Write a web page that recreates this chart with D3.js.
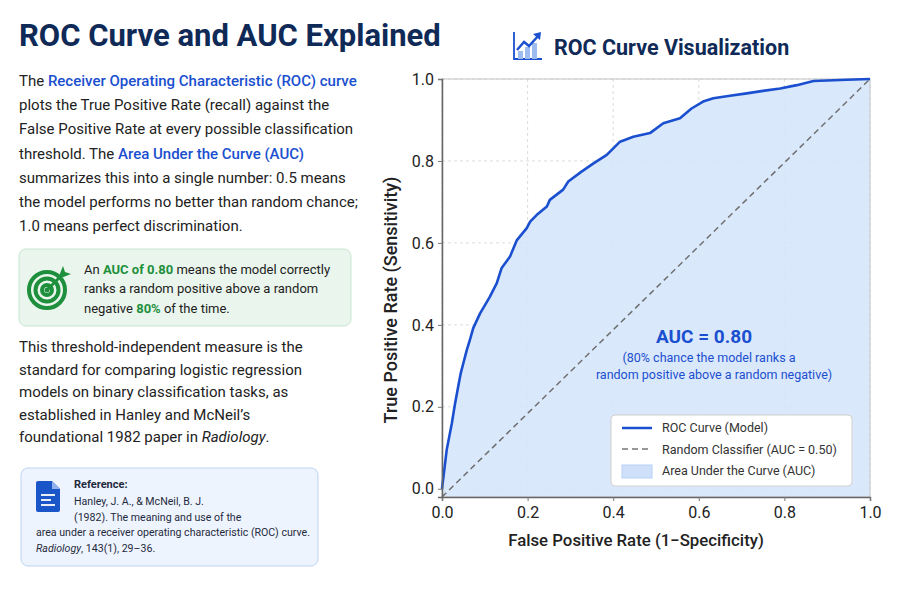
<!DOCTYPE html>
<html>
<head>
<meta charset="utf-8">
<script src="https://cdn.jsdelivr.net/npm/d3@7"></script>
<style>
  body { margin: 0; background: #fff; }
  svg text { font-family: Roboto, "Noto Sans", sans-serif; }
</style>
</head>
<body>
<div id="chart"></div>
<script>
// ROC points (false positive rate, true positive rate)
var fpr = [0, 0.011, 0.023, 0.030, 0.038, 0.044, 0.050, 0.058, 0.065, 0.073, 0.089, 0.112,
           0.128, 0.139, 0.159, 0.175, 0.198, 0.206, 0.221, 0.245, 0.252, 0.283, 0.295,
           0.326, 0.354, 0.385, 0.416, 0.447, 0.486, 0.517, 0.556, 0.583, 0.610, 0.634,
           0.673, 0.712, 0.750, 0.790, 0.829, 0.868, 0.946, 1.0];
var tpr = [0, 0.095, 0.160, 0.205, 0.250, 0.283, 0.307, 0.339, 0.363, 0.392, 0.428, 0.469,
           0.502, 0.538, 0.567, 0.607, 0.636, 0.652, 0.668, 0.689, 0.705, 0.730, 0.750,
           0.774, 0.794, 0.815, 0.847, 0.859, 0.868, 0.892, 0.904, 0.928, 0.945, 0.953,
           0.959, 0.965, 0.971, 0.977, 0.985, 0.995, 0.998, 1.0];
var diagonal = [0, 1];
var xTicks = [0, 0.2, 0.4, 0.6, 0.8, 1.0];
var yTicks = [0, 0.2, 0.4, 0.6, 0.8, 1.0];
var legendLabels = ["ROC Curve (Model)", "Random Classifier (AUC = 0.50)", "Area Under the Curve (AUC)"];

var blue = "#1a4fcf";
var navy = "#0f2a57";
var green = "#1e8f3c";

var svg = d3.select("#chart").append("svg")
    .attr("width", 900)
    .attr("height", 600);

// ---- left column ----
svg.append("text")
    .attr("x", 19).attr("y", 46)
    .attr("font-size", 31).attr("font-weight", 700)
    .attr("fill", navy)
    .text("ROC Curve and AUC Explained");

// rich text helper: each line is a list of [text, style]
function richLines(g, lines, x, y0, lh, size, color) {
    lines.forEach(function(line, i) {
        var t = g.append("text")
            .attr("x", x).attr("y", y0 + i * lh)
            .attr("font-size", size).attr("fill", color);
        line.forEach(function(seg) {
            var s = t.append("tspan").text(seg[0]);
            if (seg[1] == "b") s.attr("fill", blue).attr("font-weight", 500);
            if (seg[1] == "g") s.attr("fill", green).attr("font-weight", 700);
            if (seg[1] == "i") s.attr("font-style", "italic");
            if (seg[1] == "bold") s.attr("font-weight", 700);
        });
    });
}

richLines(svg, [
    [["The "], ["Receiver Operating Characteristic (ROC) curve", "b"]],
    [["plots the True Positive Rate (recall) against the"]],
    [["False Positive Rate at every possible classification"]],
    [["threshold. The "], ["Area Under the Curve (AUC)", "b"]],
    [["summarizes this into a single number: 0.5 means"]],
    [["the model performs no better than random chance;"]],
    [["1.0 means perfect discrimination."]]
], 19, 86, 24.2, 15, "#222");

// green callout
svg.append("rect")
    .attr("x", 19).attr("y", 249).attr("width", 332).attr("height", 77)
    .attr("rx", 7)
    .attr("fill", "#eaf6ed").attr("stroke", "#c8e6cf");

var target = svg.append("g").attr("transform", "translate(47,290)");
[18, 11.5, 5].forEach(function(r) {
    target.append("circle").attr("r", r)
        .attr("fill", "none").attr("stroke", green).attr("stroke-width", 4);
});
target.append("circle").attr("r", 2.5).attr("fill", green);
target.append("line")
    .attr("x1", 0).attr("y1", 0).attr("x2", 16).attr("y2", -16)
    .attr("stroke", green).attr("stroke-width", 3);
target.append("path")
    .attr("d", "M12,-14 L16,-24 L18,-18 L24,-16 L14,-12 Z")
    .attr("fill", green);

richLines(svg, [
    [["An "], ["AUC of 0.80", "g"], [" means the model correctly"]],
    [["ranks a random positive above a random"]],
    [["negative "], ["80%", "g"], [" of the time."]]
], 84, 274, 19.3, 13, "#222");

richLines(svg, [
    [["This threshold-independent measure is the"]],
    [["standard for comparing logistic regression"]],
    [["models on binary classification tasks, as"]],
    [["established in Hanley and McNeil\u2019s"]],
    [["foundational 1982 paper in "], ["Radiology", "i"], ["."]]
], 19, 352, 22.5, 15, "#222");

// reference box
svg.append("rect")
    .attr("x", 21).attr("y", 468).attr("width", 297).attr("height", 98)
    .attr("rx", 7)
    .attr("fill", "#eef4fd").attr("stroke", "#bcd3f5");

var doc = svg.append("g").attr("transform", "translate(36,481)");
doc.append("path")
    .attr("d", "M2,0 L16,0 L24,8 L24,29 Q24,31 22,31 L2,31 Q0,31 0,29 L0,2 Q0,0 2,0 Z")
    .attr("fill", "#1a56c8");
doc.append("path").attr("d", "M16,0 L16,8 L24,8 Z").attr("fill", "#8fb2ee");
[14, 19, 24].forEach(function(y, i) {
    doc.append("line")
        .attr("x1", 5).attr("x2", i == 1 ? 15 : 19).attr("y1", y).attr("y2", y)
        .attr("stroke", "#fff").attr("stroke-width", 1.8);
});

richLines(svg, [[["Reference:", "bold"]]], 74, 488, 0, 11, "#1f2a3d");
richLines(svg, [
    [["Hanley, J. A., & McNeil, B. J."]],
    [["(1982). The meaning and use of the"]]
], 74, 505, 15.5, 10.6, "#1f2a3d");
richLines(svg, [
    [["area under a receiver operating characteristic (ROC) curve."]],
    [["Radiology", "i"], [", 143(1), 29\u201336."]]
], 36, 536, 16, 10.6, "#1f2a3d");

// ---- chart ----
var chartIcon = svg.append("g").attr("transform", "translate(513,32)");
chartIcon.append("path").attr("d", "M1,0 L1,27 L29,27")
    .attr("fill", "none").attr("stroke", "#1a4fcf").attr("stroke-width", 1.8);
[[5, 19, 8], [12, 15, 12], [19, 11, 16]].forEach(function(b) {
    chartIcon.append("rect").attr("x", b[0]).attr("y", b[1]).attr("width", 5).attr("height", b[2])
        .attr("fill", "#9dbdf1");
});
chartIcon.append("path").attr("d", "M4,18 L11,10 L16,14 L26,3")
    .attr("fill", "none").attr("stroke", "#1a4fcf").attr("stroke-width", 2.4);
chartIcon.append("path").attr("d", "M20,2 L28,0 L27,8 Z").attr("fill", "#1a4fcf");

svg.append("text")
    .attr("x", 554).attr("y", 55)
    .attr("font-size", 21.5).attr("font-weight", 700)
    .attr("fill", navy)
    .text("ROC Curve Visualization");

var x = d3.scaleLinear().domain([0, 1]).range([442, 870]);
var y = d3.scaleLinear().domain([-0.02, 1]).range([497, 79]);

var plot = svg.append("g");

// grid
plot.selectAll(".vgrid").data(xTicks).enter().append("line")
    .attr("x1", function(d) { return x(d); }).attr("x2", function(d) { return x(d); })
    .attr("y1", y(1)).attr("y2", y(-0.02))
    .attr("stroke", "#dcdcdc").attr("stroke-dasharray", "3,3");
plot.selectAll(".hgrid").data(yTicks).enter().append("line")
    .attr("x1", x(0)).attr("x2", x(1))
    .attr("y1", function(d) { return y(d); }).attr("y2", function(d) { return y(d); })
    .attr("stroke", "#dcdcdc").attr("stroke-dasharray", "3,3");

var pts = fpr.map(function(f, i) { return [f, tpr[i]]; });

var area = d3.area()
    .x(function(d) { return x(d[0]); })
    .y0(y(-0.02))
    .y1(function(d) { return y(d[1]); });
plot.append("path").datum(pts)
    .attr("d", area)
    .attr("fill", "#d6e5fb").attr("fill-opacity", 0.9);

// frame
plot.append("rect")
    .attr("x", x(0)).attr("y", y(1)).attr("width", x(1) - x(0)).attr("height", y(-0.02) - y(1))
    .attr("fill", "none").attr("stroke", "#c4c4c4");

plot.append("line")
    .attr("x1", x(diagonal[0])).attr("y1", y(-0.02))
    .attr("x2", x(diagonal[1])).attr("y2", y(diagonal[1]))
    .attr("stroke", "#6f6f6f").attr("stroke-width", 1.5).attr("stroke-dasharray", "6,4");

var line = d3.line()
    .x(function(d) { return x(d[0]); })
    .y(function(d) { return y(d[1]); });
plot.append("path").datum(pts)
    .attr("d", line)
    .attr("fill", "none").attr("stroke", blue).attr("stroke-width", 2.6)
    .attr("stroke-linejoin", "round");

// axes
var xAxis = svg.append("g").attr("transform", "translate(0," + y(-0.02) + ")")
    .call(d3.axisBottom(x).tickValues(xTicks).tickFormat(d3.format(".1f")).tickSize(4).tickPadding(6));
var yAxis = svg.append("g").attr("transform", "translate(" + x(0) + ",0)")
    .call(d3.axisLeft(y).tickValues(yTicks).tickFormat(d3.format(".1f")).tickSize(4).tickPadding(4));
[xAxis, yAxis].forEach(function(a) {
    a.select(".domain").attr("stroke", "#666").attr("stroke-width", 1.5);
    a.selectAll(".tick line").attr("stroke", "#777");
    a.selectAll(".tick text").attr("font-size", 16).attr("fill", "#222")
        .attr("font-family", "Roboto, sans-serif");
});

svg.append("text")
    .attr("transform", "translate(397,300) rotate(-90)")
    .attr("text-anchor", "middle")
    .attr("font-size", 18).attr("font-weight", 500).attr("fill", "#222")
    .text("True Positive Rate (Sensitivity)");
svg.append("text")
    .attr("x", 636).attr("y", 546)
    .attr("text-anchor", "middle")
    .attr("font-size", 16.8).attr("font-weight", 500).attr("fill", "#222")
    .text("False Positive Rate (1\u2212Specificity)");

// annotation
svg.append("text")
    .attr("x", 704).attr("y", 343)
    .attr("text-anchor", "middle")
    .attr("font-size", 19).attr("font-weight", 700).attr("fill", blue)
    .text("AUC = 0.80");
svg.append("text")
    .attr("x", 709).attr("y", 362)
    .attr("text-anchor", "middle")
    .attr("font-size", 12.5).attr("fill", blue)
    .text("(80% chance the model ranks a");
svg.append("text")
    .attr("x", 714).attr("y", 379)
    .attr("text-anchor", "middle")
    .attr("font-size", 12.5).attr("fill", blue)
    .text("random positive above a random negative)");

// legend
var legend = svg.append("g").attr("transform", "translate(611,415)");
legend.append("rect")
    .attr("width", 241).attr("height", 71).attr("rx", 4)
    .attr("fill", "#fff").attr("stroke", "#cfcfcf");
legend.append("line").attr("x1", 11).attr("x2", 41).attr("y1", 13).attr("y2", 13)
    .attr("stroke", blue).attr("stroke-width", 2.5);
legend.append("line").attr("x1", 11).attr("x2", 41).attr("y1", 34).attr("y2", 34)
    .attr("stroke", "#777").attr("stroke-width", 1.5).attr("stroke-dasharray", "6,4");
legend.append("rect").attr("x", 11).attr("y", 50).attr("width", 30).attr("height", 13)
    .attr("fill", "#cfe0fa").attr("stroke", "#b8d0f5");
legend.selectAll(".lbl").data(legendLabels).enter().append("text")
    .attr("x", 51)
    .attr("y", function(d, i) { return 17 + i * 21.5; })
    .attr("font-size", 12.5).attr("fill", "#333")
    .text(function(d) { return d; });
</script>
</body>
</html>
